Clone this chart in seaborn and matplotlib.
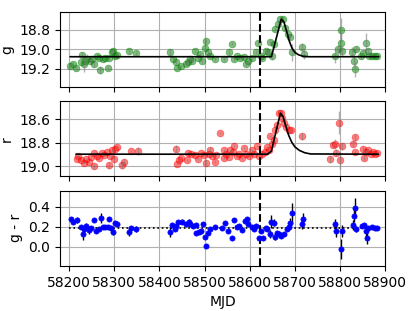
import seaborn as sns
import matplotlib.pyplot as plt
import pandas as pd
import numpy as np

sns.set_style("ticks", {"axes.grid": True})
plt.rcParams["text.color"] = "black"
plt.rcParams["axes.labelcolor"] = "black"
plt.rcParams["xtick.color"] = "black"
plt.rcParams["ytick.color"] = "black"

# g band photometry
g_mjd = [58202, 58208, 58215, 58226, 58228, 58232, 58235, 58240, 58246, 58250,
         58255, 58261, 58267, 58268, 58274, 58279, 58287, 58289, 58294, 58298,
         58302, 58307, 58333, 58348, 58424, 58430, 58436, 58439, 58448, 58458,
         58463, 58468, 58473, 58479, 58485, 58489, 58495, 58500, 58504, 58507,
         58511, 58522, 58542, 58555, 58561, 58565, 58572, 58579, 58587, 58592,
         58596, 58605, 58613, 58618, 58624, 58627, 58635, 58640, 58646, 58649,
         58653, 58657, 58662, 58668, 58673, 58679, 58685, 58690, 58693, 58715,
         58721, 58789, 58795, 58802, 58802, 58804, 58826, 58831, 58833, 58835,
         58846, 58851, 58857, 58861, 58864, 58870, 58877, 58883]
g_mag = [19.17, 19.15, 19.19, 19.13, 19.06, 19.15, 19.12, 19.10, 19.12, 19.10,
         19.15, 19.065, 19.09, 19.21, 19.10, 19.09, 19.19, 19.09, 19.03, 19.02,
         19.065, 19.06, 19.02, 19.04, 19.03, 19.10, 19.13, 19.19, 19.17, 19.15,
         19.13, 19.10, 19.12, 19.02, 19.09, 19.05, 19.12, 18.99, 18.915, 19.03,
         19.065, 19.10, 19.10, 19.03, 18.94, 19.10, 19.065, 19.09, 19.08, 19.15,
         19.12, 19.09, 19.03, 18.93, 19.065, 19.09, 19.015, 19.03, 18.92, 19.065,
         18.945, 18.79, 18.74, 18.69, 18.69, 18.78, 18.84, 18.87, 19.03, 18.98,
         19.05, 19.065, 19.00, 18.93, 18.80, 19.015, 19.03, 19.12, 19.20, 19.00,
         19.065, 19.04, 18.935, 19.02, 19.065, 19.065, 19.065, 19.065]
g_err = [0.02, 0.02, 0.02, 0.02, 0.03, 0.08, 0.02, 0.05, 0.02, 0.02,
         0.03, 0.02, 0.02, 0.04, 0.02, 0.02, 0.02, 0.02, 0.02, 0.02,
         0.02, 0.02, 0.03, 0.02, 0.03, 0.02, 0.02, 0.02, 0.02, 0.02,
         0.02, 0.02, 0.02, 0.02, 0.02, 0.02, 0.02, 0.02, 0.02, 0.02,
         0.02, 0.02, 0.02, 0.02, 0.02, 0.02, 0.02, 0.02, 0.02, 0.02,
         0.02, 0.02, 0.02, 0.02, 0.02, 0.02, 0.02, 0.02, 0.02, 0.04,
         0.02, 0.02, 0.02, 0.02, 0.02, 0.02, 0.02, 0.02, 0.09, 0.05,
         0.05, 0.07, 0.05, 0.10, 0.12, 0.05, 0.05, 0.06, 0.08, 0.03,
         0.03, 0.03, 0.10, 0.03, 0.02, 0.02, 0.02, 0.02]

# r band photometry
r_mjd = [58217, 58220, 58226, 58232, 58237, 58243, 58248, 58254, 58256, 58261,
         58267, 58272, 58277, 58283, 58289, 58290, 58294, 58299, 58301, 58307,
         58318, 58322, 58336, 58353, 58436, 58439, 58443, 58448, 58460, 58463,
         58470, 58478, 58485, 58493, 58498, 58503, 58509, 58513, 58517, 58522,
         58526, 58535, 58542, 58543, 58548, 58554, 58557, 58562, 58566, 58572,
         58577, 58583, 58587, 58592, 58598, 58604, 58609, 58616, 58621, 58627,
         58633, 58638, 58642, 58646, 58649, 58653, 58657, 58660, 58665, 58670,
         58671, 58675, 58680, 58686, 58692, 58715, 58778, 58784, 58789, 58792,
         58797, 58800, 58805, 58828, 58833, 58834, 58851, 58854, 58858, 58862,
         58868, 58873, 58878, 58882]
r_mag = [18.94, 18.91, 18.95, 18.97, 18.94, 18.96, 18.92, 18.89, 19.00, 18.91,
         18.93, 18.89, 18.90, 18.88, 18.99, 18.91, 18.865, 18.94, 18.85, 18.84,
         18.99, 18.96, 18.87, 18.87, 18.85, 18.98, 18.95, 18.93, 18.95, 18.89,
         18.895, 18.90, 18.94, 18.89, 18.90, 18.97, 18.895, 18.86, 18.91, 18.96,
         18.90, 18.72, 18.86, 18.93, 18.895, 18.92, 18.865, 18.88, 18.83, 18.91,
         18.895, 18.93, 18.845, 18.895, 18.91, 18.86, 18.895, 18.83, 18.91, 18.895,
         18.88, 18.835, 18.865, 18.745, 18.81, 18.78, 18.69, 18.65, 18.55, 18.545,
         18.59, 18.63, 18.665, 18.69, 18.69, 18.745, 18.94, 18.82, 18.81, 18.885,
         18.63, 18.95, 18.83, 18.81, 18.755, 18.88, 18.85, 18.93, 18.88, 18.86,
         18.895, 18.88, 18.895, 18.89]
r_err = [0.01, 0.01, 0.01, 0.01, 0.01, 0.01, 0.01, 0.01, 0.02, 0.01,
         0.01, 0.01, 0.01, 0.01, 0.03, 0.01, 0.01, 0.01, 0.01, 0.01,
         0.03, 0.02, 0.01, 0.03, 0.03, 0.01, 0.01, 0.01, 0.01, 0.01,
         0.01, 0.01, 0.01, 0.01, 0.01, 0.03, 0.01, 0.02, 0.01, 0.01,
         0.01, 0.01, 0.01, 0.01, 0.01, 0.01, 0.01, 0.02, 0.01, 0.01,
         0.01, 0.01, 0.01, 0.01, 0.01, 0.01, 0.01, 0.01, 0.01, 0.01,
         0.01, 0.01, 0.01, 0.01, 0.01, 0.01, 0.01, 0.01, 0.01, 0.01,
         0.01, 0.02, 0.02, 0.01, 0.01, 0.03, 0.03, 0.02, 0.04, 0.03,
         0.10, 0.07, 0.03, 0.03, 0.03, 0.02, 0.02, 0.02, 0.02, 0.01,
         0.01, 0.01, 0.01, 0.01]

# g - r colour
c_mjd = [58204, 58208, 58217, 58226, 58230, 58233, 58237, 58243, 58248, 58255,
         58259, 58265, 58270, 58274, 58279, 58285, 58289, 58292, 58296, 58301,
         58307, 58332, 58336, 58348, 58424, 58428, 58434, 58437, 58441, 58450,
         58459, 58465, 58468, 58474, 58480, 58482, 58487, 58492, 58496, 58502,
         58504, 58507, 58511, 58522, 58539, 58545, 58552, 58560, 58566, 58571,
         58577, 58582, 58590, 58593, 58597, 58604, 58609, 58613, 58620, 58624,
         58629, 58635, 58638, 58646, 58648, 58653, 58657, 58660, 58665, 58670,
         58675, 58682, 58686, 58690, 58693, 58715, 58719, 58789, 58792, 58802,
         58804, 58828, 58831, 58833, 58835, 58848, 58854, 58857, 58859, 58863,
         58870, 58877, 58883]
c_val = [0.276, 0.25, 0.27, 0.20, 0.127, 0.177, 0.21, 0.167, 0.193, 0.27,
         0.16, 0.177, 0.292, 0.20, 0.203, 0.20, 0.276, 0.193, 0.144, 0.243,
         0.233, 0.144, 0.193, 0.183, 0.144, 0.22, 0.183, 0.21, 0.25, 0.253,
         0.233, 0.25, 0.226, 0.21, 0.137, 0.22, 0.15, 0.16, 0.226, 0.094,
         0.005, 0.134, 0.177, 0.20, 0.187, 0.236, 0.16, 0.088, 0.266, 0.20,
         0.21, 0.167, 0.26, 0.276, 0.233, 0.20, 0.177, 0.21, 0.088, 0.16,
         0.088, 0.193, 0.177, 0.127, 0.253, 0.243, 0.094, 0.134, 0.127, 0.11,
         0.127, 0.177, 0.20, 0.243, 0.342, 0.233, 0.276, 0.226, 0.16, -0.02,
         0.16, 0.22, 0.309, 0.39, 0.177, 0.21, 0.22, 0.16, 0.088, 0.193,
         0.20, 0.193, 0.193]
c_err = [0.02, 0.02, 0.03, 0.02, 0.06, 0.02, 0.03, 0.04, 0.02, 0.02,
         0.02, 0.02, 0.05, 0.02, 0.02, 0.02, 0.02, 0.02, 0.03, 0.02,
         0.02, 0.04, 0.02, 0.03, 0.05, 0.02, 0.02, 0.02, 0.02, 0.02,
         0.02, 0.03, 0.02, 0.02, 0.02, 0.02, 0.02, 0.02, 0.02, 0.02,
         0.02, 0.02, 0.02, 0.02, 0.02, 0.02, 0.02, 0.02, 0.02, 0.02,
         0.02, 0.02, 0.02, 0.02, 0.02, 0.02, 0.02, 0.02, 0.02, 0.02,
         0.02, 0.02, 0.02, 0.04, 0.06, 0.03, 0.03, 0.02, 0.02, 0.02,
         0.02, 0.02, 0.03, 0.04, 0.10, 0.05, 0.06, 0.05, 0.06, 0.10,
         0.06, 0.05, 0.06, 0.10, 0.03, 0.02, 0.02, 0.06, 0.06, 0.02,
         0.02, 0.02, 0.02]

# model curves
g_model_mjd = [58202, 58648, 58670, 58676, 58682, 58688, 58694, 58700, 58708, 58718, 58730, 58886]
g_model_mag = [19.075, 19.075, 18.69, 18.72, 18.82, 18.92, 18.99, 19.03, 19.055, 19.07, 19.075, 19.075]
r_model_mjd = [58215, 58640, 58648, 58668, 58674, 58680, 58686, 58693, 58700, 58710, 58722, 58735, 58885]
r_model_mag = [18.897, 18.897, 18.87, 18.55, 18.58, 18.66, 18.735, 18.795, 18.835, 18.865, 18.885, 18.895, 18.897]
color_mean = 0.19
t_event = 58623

g_df = pd.DataFrame({"MJD": g_mjd, "mag": g_mag, "err": g_err})
r_df = pd.DataFrame({"MJD": r_mjd, "mag": r_mag, "err": r_err})
c_df = pd.DataFrame({"MJD": c_mjd, "gr": c_val, "err": c_err})

fig, axes = plt.subplots(3, 1, figsize=(4.15, 3.11), dpi=100, sharex=True)
plt.subplots_adjust(left=0.145, right=0.928, top=0.962, bottom=0.145, hspace=0.19)
for ax in axes:
    ax.grid(True, color="#b0b0b0", lw=0.8)
    for s in ax.spines.values():
        s.set_color("black")
        s.set_linewidth(0.8)
    ax.tick_params(labelsize=10, direction="out", length=3.5, width=0.8)

ax = axes[0]
ax.errorbar(g_df["MJD"], g_df["mag"], yerr=g_df["err"], fmt="none", ecolor="gray", alpha=0.6, lw=1)
sns.scatterplot(data=g_df, x="MJD", y="mag", color="green", alpha=0.5, s=24, edgecolor="green", linewidth=0.5, ax=ax)
sns.lineplot(x=g_model_mjd, y=g_model_mag, color="black", lw=1.2, ax=ax)
ax.axvline(t_event, color="black", ls="--", lw=1.5)
ax.set_ylim(19.385, 18.615)
ax.set_yticks([18.8, 19.0, 19.2])
ax.set_ylabel("g", fontsize=10)

ax = axes[1]
ax.errorbar(r_df["MJD"], r_df["mag"], yerr=r_df["err"], fmt="none", ecolor="gray", alpha=0.6, lw=1)
sns.scatterplot(data=r_df, x="MJD", y="mag", color="red", alpha=0.5, s=24, edgecolor="red", linewidth=0.5, ax=ax)
sns.lineplot(x=r_model_mjd, y=r_model_mag, color="black", lw=1.2, ax=ax)
ax.axvline(t_event, color="black", ls="--", lw=1.5)
ax.set_ylim(19.085, 18.45)
ax.set_yticks([18.6, 18.8, 19.0])
ax.set_ylabel("r", fontsize=10)

ax = axes[2]
ax.errorbar(c_df["MJD"], c_df["gr"], yerr=c_df["err"], fmt="none", ecolor="black", lw=1)
sns.scatterplot(data=c_df, x="MJD", y="gr", color="blue", s=14, edgecolor="blue", linewidth=0.5, ax=ax, zorder=3)
ax.plot([58200, 58885], [color_mean, color_mean], color="black", ls=":", lw=1.2)
ax.axvline(t_event, color="black", ls="--", lw=1.5)
ax.set_ylim(-0.19, 0.56)
ax.set_yticks([0.0, 0.2, 0.4])
ax.set_ylabel("g - r", fontsize=10)
ax.set_xlabel("MJD", fontsize=10)
ax.set_xlim(58180, 58900)
ax.set_xticks([58200, 58300, 58400, 58500, 58600, 58700, 58800, 58900])

plt.savefig("out.png", dpi=100)
